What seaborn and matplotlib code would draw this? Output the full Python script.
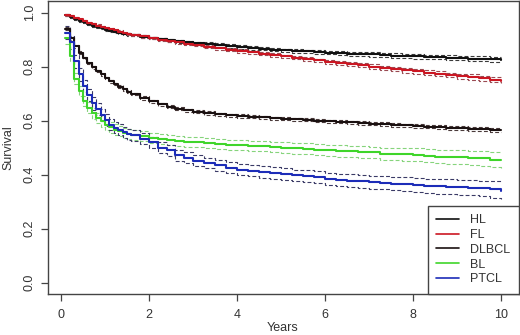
import numpy as np
import pandas as pd
import matplotlib
matplotlib.use("Agg")
import matplotlib.pyplot as plt
import seaborn as sns
from matplotlib.lines import Line2D

# ---- data ----
times = [0.1, 0.2, 0.3, 0.4, 0.5, 0.6, 0.7, 0.8, 0.9, 1.0,
         1.1, 1.2, 1.3, 1.4, 1.5, 1.6,
         1.8, 2.0, 2.2, 2.4, 2.6, 2.8, 3.0,
         3.25, 3.5, 3.75, 4.0, 4.25, 4.5, 4.75, 5.0, 5.25, 5.5, 5.75, 6.0,
         6.25, 6.5, 6.75, 7.0, 7.25, 7.5, 7.75, 8.0, 8.25, 8.5, 8.75, 9.0,
         9.25, 9.5, 9.75, 10.0]

groups = ["HL", "FL", "DLBCL", "BL", "PTCL"]

hl = [0.990, 0.983, 0.977, 0.970, 0.964, 0.958, 0.952, 0.947, 0.942, 0.937,
      0.933, 0.929, 0.926, 0.922, 0.919, 0.916,
      0.911, 0.906, 0.902, 0.898, 0.894, 0.891, 0.888,
      0.884, 0.880, 0.876, 0.873, 0.869, 0.866, 0.863, 0.860, 0.858, 0.856, 0.854, 0.852,
      0.850, 0.848, 0.846, 0.845, 0.843, 0.841, 0.840, 0.838, 0.836, 0.835, 0.833, 0.832,
      0.830, 0.829, 0.827, 0.826]
fl = [0.992, 0.987, 0.981, 0.975, 0.969, 0.963, 0.957, 0.952, 0.947, 0.942,
      0.938, 0.934, 0.930, 0.926, 0.922, 0.918,
      0.912, 0.906, 0.900, 0.895, 0.890, 0.885, 0.880,
      0.874, 0.868, 0.863, 0.858, 0.853, 0.848, 0.843, 0.838, 0.833, 0.828, 0.823, 0.818,
      0.814, 0.809, 0.805, 0.800, 0.796, 0.791, 0.787, 0.782, 0.778, 0.774, 0.769, 0.765,
      0.761, 0.757, 0.752, 0.748]
dlbcl = [0.940, 0.905, 0.875, 0.852, 0.832, 0.813, 0.797, 0.784, 0.771, 0.758,
         0.746, 0.736, 0.726, 0.716, 0.707, 0.699,
         0.684, 0.671, 0.660, 0.651, 0.644, 0.638, 0.633,
         0.628, 0.624, 0.620, 0.617, 0.614, 0.612, 0.609, 0.607, 0.605, 0.603, 0.600, 0.598,
         0.596, 0.594, 0.591, 0.589, 0.587, 0.585, 0.582, 0.580, 0.578, 0.576, 0.574, 0.572,
         0.570, 0.568, 0.566, 0.564]
bl = [0.905, 0.840, 0.755, 0.710, 0.673, 0.648, 0.627, 0.610, 0.598, 0.585,
      0.575, 0.567, 0.561, 0.555, 0.551, 0.547,
      0.542, 0.537, 0.532, 0.528, 0.525, 0.522, 0.520,
      0.517, 0.514, 0.511, 0.509, 0.507, 0.505, 0.503, 0.500, 0.498, 0.496, 0.493, 0.490,
      0.488, 0.486, 0.484, 0.482, 0.477, 0.477, 0.475, 0.473, 0.470, 0.467, 0.465, 0.464,
      0.462, 0.460, 0.455, 0.454]
ptcl = [0.925, 0.890, 0.820, 0.772, 0.728, 0.695, 0.664, 0.642, 0.620, 0.603,
        0.585, 0.574, 0.566, 0.557, 0.550, 0.545,
        0.533, 0.520, 0.500, 0.490, 0.472, 0.462, 0.452,
        0.443, 0.434, 0.426, 0.419, 0.414, 0.410, 0.406, 0.402, 0.398, 0.394, 0.390, 0.385,
        0.381, 0.378, 0.375, 0.372, 0.370, 0.367, 0.365, 0.362, 0.359, 0.357, 0.356, 0.354,
        0.352, 0.349, 0.345, 0.341]

# confidence-band half widths
hl_ci = [0.003, 0.003, 0.003, 0.003, 0.003, 0.003, 0.004, 0.004, 0.004, 0.004,
         0.004, 0.004, 0.004, 0.004, 0.004, 0.004,
         0.005, 0.005, 0.005, 0.005, 0.005, 0.005, 0.005,
         0.006, 0.006, 0.006, 0.006, 0.006, 0.006, 0.007, 0.007, 0.007, 0.007, 0.007, 0.007,
         0.007, 0.007, 0.008, 0.008, 0.008, 0.008, 0.008, 0.008, 0.008, 0.008, 0.009, 0.009,
         0.009, 0.009, 0.009, 0.009]
fl_ci = [0.003, 0.003, 0.003, 0.003, 0.003, 0.003, 0.004, 0.004, 0.004, 0.004,
         0.004, 0.004, 0.004, 0.004, 0.004, 0.004,
         0.005, 0.005, 0.005, 0.005, 0.005, 0.005, 0.005,
         0.006, 0.006, 0.006, 0.006, 0.006, 0.006, 0.006, 0.006, 0.006, 0.007, 0.007, 0.007,
         0.007, 0.008, 0.008, 0.008, 0.008, 0.008, 0.009, 0.009, 0.009, 0.009, 0.009, 0.009,
         0.010, 0.010, 0.010, 0.010]
dlbcl_ci = [0.005, 0.005, 0.005, 0.005, 0.005, 0.005, 0.005, 0.005, 0.005, 0.005,
            0.005, 0.005, 0.005, 0.005, 0.005, 0.005,
            0.006, 0.006, 0.006, 0.006, 0.006, 0.006, 0.006,
            0.006, 0.006, 0.006, 0.006, 0.006, 0.006, 0.006, 0.006, 0.006, 0.006, 0.006, 0.006,
            0.006, 0.006, 0.006, 0.006, 0.007, 0.007, 0.007, 0.007, 0.007, 0.007, 0.007, 0.007,
            0.007, 0.007, 0.007, 0.007]
bl_ci = [0.020, 0.020, 0.020, 0.020, 0.020, 0.020, 0.020, 0.020, 0.020, 0.020,
         0.019, 0.019, 0.019, 0.019, 0.019, 0.019,
         0.019, 0.019, 0.019, 0.019, 0.019, 0.019, 0.019,
         0.019, 0.019, 0.019, 0.019, 0.019, 0.019, 0.019, 0.020, 0.020, 0.020, 0.020, 0.020,
         0.021, 0.021, 0.021, 0.022, 0.022, 0.023, 0.023, 0.024, 0.024, 0.025, 0.025, 0.026,
         0.026, 0.027, 0.027, 0.028]
ptcl_ci = [0.024, 0.024, 0.024, 0.024, 0.023, 0.023, 0.023, 0.022, 0.022, 0.022,
           0.021, 0.021, 0.021, 0.021, 0.020, 0.020,
           0.020, 0.020, 0.020, 0.020, 0.020, 0.020, 0.020,
           0.020, 0.020, 0.020, 0.020, 0.020, 0.021, 0.021, 0.021, 0.021, 0.022, 0.022, 0.022,
           0.022, 0.023, 0.023, 0.024, 0.024, 0.025, 0.025, 0.026, 0.026, 0.027, 0.027, 0.028,
           0.028, 0.029, 0.030, 0.031]

surv = {"HL": hl, "FL": fl, "DLBCL": dlbcl, "BL": bl, "PTCL": ptcl}
half = {"HL": hl_ci, "FL": fl_ci, "DLBCL": dlbcl_ci, "BL": bl_ci, "PTCL": ptcl_ci}

line_colors = {"HL": "#111111", "FL": "#cc1622", "DLBCL": "#1a1010",
               "BL": "#3fd52a", "PTCL": "#1c2cb8"}
ci_colors = {"HL": "#3a3a3a", "FL": "#9a4a52", "DLBCL": "#4a3a3a",
             "BL": "#86d47c", "PTCL": "#3a3a66"}

rows = []
for g in groups:
    for t, s, h in zip(times, surv[g], half[g]):
        rows.append({"Years": t, "Survival": s, "lo": s - h, "hi": s + h, "group": g})
df = pd.DataFrame(rows)

sns.set_style("white")
plt.rcParams["font.family"] = ["Liberation Sans", "DejaVu Sans"]

fig = plt.figure(figsize=(5.2, 3.35), dpi=100)
ax = fig.add_axes([47.7 / 520, 1 - 294 / 335, (519 - 47.7) / 520, 293 / 335])

for g in groups:
    sub = df[df["group"] == g]
    for col in ("lo", "hi"):
        sns.lineplot(data=sub, x="Years", y=col, ax=ax, color=ci_colors[g],
                     estimator=None, drawstyle="steps-post", lw=0.8,
                     dashes=False, linestyle=(0, (3.5, 2.0)), legend=False)
for g in groups:
    sub = df[df["group"] == g]
    sns.lineplot(data=sub, x="Years", y="Survival", ax=ax, color=line_colors[g],
                 estimator=None, drawstyle="steps-post", lw=1.5, legend=False)

ax.set_xlim(-0.3, 10.4)
ax.set_ylim(-0.042, 1.043)
ax.set_xticks([0, 2, 4, 6, 8, 10])
ax.set_xticklabels(["0", "2", "4", "6", "8", "10"])
ax.set_yticks([0.0, 0.2, 0.4, 0.6, 0.8, 1.0])
ax.set_yticklabels(["0.0", "0.2", "0.4", "0.6", "0.8", "1.0"],
                   rotation=90, va="center", ha="center")

for sp in ax.spines.values():
    sp.set_visible(True)
    sp.set_color("#444444")
    sp.set_linewidth(1.0)

ax.tick_params(axis="both", which="major", direction="out", length=5, width=0.9,
               color="#444444", labelsize=9, labelcolor="#333333",
               left=True, bottom=True, top=False, right=False)
ax.tick_params(axis="y", pad=8)
ax.tick_params(axis="x", pad=6)

ax.set_xlabel("Years", fontsize=9, color="#333333", va="center")
ax.set_ylabel("Survival", fontsize=9, color="#333333", va="center")
ax.xaxis.set_label_coords((283 - 47.7) / 471.3, -(328 - 294) / 293)
ax.yaxis.set_label_coords(-(47.7 - 8) / 471.3, 0.5)

handles = [Line2D([0], [0], color=line_colors[g], lw=1.2) for g in groups]
leg = ax.legend(handles, groups, loc="lower right", bbox_to_anchor=(1.0, 0.0),
                borderaxespad=0, fancybox=False, framealpha=1, edgecolor="#444444",
                fontsize=9, labelspacing=0.22, handlelength=1.8, handletextpad=0.9,
                borderpad=0.7)
leg.get_frame().set_linewidth(1.0)
for txt in leg.get_texts():
    txt.set_color("#333333")

fig.savefig("out.png", dpi=100)
